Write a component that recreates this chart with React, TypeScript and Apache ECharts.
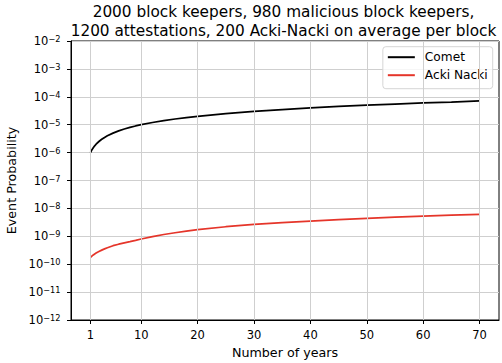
import React, { useEffect, useRef } from "react";
import * as echarts from "echarts";

const titleLines = [
  "2000 block keepers, 980 malicious block keepers,",
  "1200 attestations, 200 Acki-Nacki on average per block",
];
const seriesNames = ["Comet", "Acki Nacki"];
const years = [1, 1.25, 1.5, 1.75, 2, 2.5, 3, 3.5, 4, 5, 6, 7, 8, 9, 10, 12, 14, 16, 18, 20, 25, 30, 35, 40, 45, 50, 55, 60, 65, 70];
const cometValues = [
  1.0e-6, 1.25e-6, 1.5e-6, 1.75e-6, 2.0e-6, 2.5e-6, 3.0e-6, 3.5e-6, 4.0e-6, 5.0e-6,
  6.0e-6, 7.0e-6, 8.0e-6, 9.0e-6, 1.0e-5, 1.2e-5, 1.4e-5, 1.6e-5, 1.8e-5, 2.0e-5,
  2.5e-5, 3.0e-5, 3.5e-5, 4.0e-5, 4.5e-5, 5.0e-5, 5.5e-5, 6.0e-5, 6.5e-5, 7.1e-5,
];
const ackiValues = [
  1.75e-10, 1.95e-10, 2.15e-10, 2.33e-10, 2.5e-10, 2.85e-10, 3.2e-10, 3.55e-10, 3.9e-10, 4.6e-10,
  5.2e-10, 5.8e-10, 6.4e-10, 7.1e-10, 8.0e-10, 9.8e-10, 1.16e-9, 1.34e-9, 1.53e-9, 1.72e-9,
  2.2e-9, 2.65e-9, 3.08e-9, 3.5e-9, 3.95e-9, 4.4e-9, 4.85e-9, 5.3e-9, 5.7e-9, 6.1e-9,
];
const xTicks = [1, 10, 20, 30, 40, 50, 60, 70];
const yTicks = [1e-12, 1e-11, 1e-10, 1e-9, 1e-8, 1e-7, 1e-6, 1e-5, 1e-4, 1e-3, 1e-2];
const xName = "Number of years";
const yName = "Event Probability";

const FONT = "DejaVu Sans";
const GRID = "#cfcfcf";

export default function App() {
  const ref = useRef<HTMLDivElement>(null);
  useEffect(() => {
    document.body.style.margin = "0";
    const chart = echarts.init(ref.current!, null, { renderer: "svg" });
    const pairs = (vals: number[]) => years.map((y, i) => [y, vals[i]]);
    chart.setOption({
      animation: false,
      backgroundColor: "#ffffff",
      textStyle: { fontFamily: FONT },
      title: {
        text: titleLines.join("\n"),
        left: 283.5,
        textAlign: "center",
        top: 2,
        padding: 0,
        textStyle: { fontFamily: FONT, fontSize: 15.3, fontWeight: "normal", color: "#000", lineHeight: 19 },
      },
      legend: {
        orient: "vertical",
        right: 9.3,
        top: 46.7,
        icon: "rect",
        itemWidth: 27,
        itemHeight: 2,
        itemGap: 3,
        padding: [3, 5, 6, 5],
        borderColor: "#d5d5d5",
        borderWidth: 1,
        borderRadius: 3,
        backgroundColor: "rgba(255,255,255,0.8)",
        textStyle: { fontFamily: FONT, fontSize: 12.2, color: "#000", padding: [0, 0, 0, 5], lineHeight: 15 },
        data: seriesNames,
      },
      grid: {
        left: 71,
        right: 3,
        top: 41,
        bottom: 43,
        show: true,
        borderColor: "#000",
        borderWidth: 1,
        outerBoundsMode: "none",
        containLabel: false,
      },
      xAxis: {
        type: "value",
        min: -2.45,
        max: 73.45,
        name: xName,
        nameLocation: "middle",
        nameGap: 25,
        nameTextStyle: { fontFamily: FONT, fontSize: 12.7, color: "#000" },
        axisLine: { show: true, onZero: false, lineStyle: { color: "#000", width: 1 } },
        axisTick: { show: true, length: 4, lineStyle: { color: "#000", width: 1 }, customValues: xTicks },
        axisLabel: { fontFamily: FONT, fontSize: 11.5, color: "#000", margin: 9, customValues: xTicks },
        splitLine: { show: false },
      },
      yAxis: {
        type: "log",
        logBase: 10,
        min: 1e-12,
        max: 1e-2,
        name: yName,
        nameLocation: "middle",
        nameGap: 50.5,
        nameTextStyle: { fontFamily: FONT, fontSize: 12.7, color: "#000" },
        axisLine: { show: true, onZero: false, lineStyle: { color: "#000", width: 1 } },
        axisTick: { show: true, length: 4, lineStyle: { color: "#000", width: 1 }, customValues: yTicks },
        axisLabel: {
          customValues: yTicks,
          margin: 10.5,
          formatter: (v: number) => {
            const e = Math.round(Math.log10(v));
            return `{b|10}{s|\u2212${-e}}`;
          },
          rich: {
            b: { fontFamily: FONT, fontSize: 11.5, color: "#000", verticalAlign: "bottom", lineHeight: 12 },
            s: { fontFamily: FONT, fontSize: 8.2, color: "#000", verticalAlign: "top", lineHeight: 9, padding: [0, 0, 5.4, 0] },
          },
        },
        splitLine: { show: true, lineStyle: { color: GRID, width: 1 } },
      },
      series: [
        {
          name: "grid",
          type: "line",
          data: [],
          z: 1,
          silent: true,
          markLine: {
            silent: true,
            symbol: "none",
            label: { show: false },
            lineStyle: { color: GRID, width: 1, type: "solid" },
            data: xTicks.map((t) => ({ xAxis: t })),
          },
        },
        {
          name: seriesNames[0],
          type: "line",
          data: pairs(cometValues),
          showSymbol: false,
          symbol: "none",
          z: 3,
          lineStyle: { color: "#000000", width: 1.75 },
          itemStyle: { color: "#000000" },
        },
        {
          name: seriesNames[1],
          type: "line",
          data: pairs(ackiValues),
          showSymbol: false,
          symbol: "none",
          z: 3,
          lineStyle: { color: "#e5352a", width: 1.75 },
          itemStyle: { color: "#e5352a" },
        },
      ],
    });
    return () => chart.dispose();
  }, []);
  return <div ref={ref} style={{ width: 502, height: 363, position: "absolute", left: 0, top: 0 }} />;
}
